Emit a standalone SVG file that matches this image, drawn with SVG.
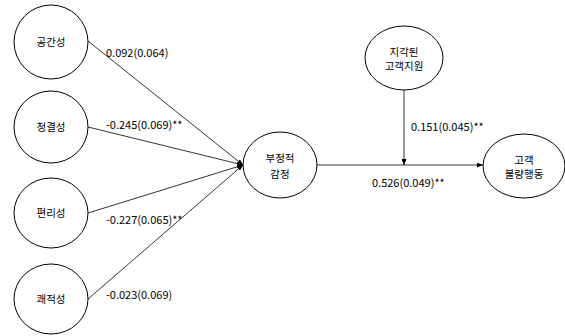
<svg xmlns="http://www.w3.org/2000/svg" width="565" height="336" viewBox="0 0 565 336">
<style>
.n{fill:#fff;stroke:#000;stroke-width:1}
.t{font-family:"Noto Sans CJK KR","Noto Sans",sans-serif;font-size:10.5px;fill:#000;text-anchor:middle;dominant-baseline:central}
.l{font-family:"Noto Sans CJK KR","Noto Sans",sans-serif;font-size:11px;fill:#000;dominant-baseline:central}
.e{fill:none;stroke:#000;stroke-width:0.8}
</style>
<defs>
<marker id="a" viewBox="0 0 6 5" refX="6" refY="2.5" markerWidth="6" markerHeight="5" markerUnits="userSpaceOnUse" orient="auto">
<path d="M0,0 L6,2.5 L0,5 Z" fill="#000"/>
</marker>
</defs>
<rect width="565" height="336" fill="#fff"/>
<g id="edges">
<line class="e" x1="88" y1="41" x2="243" y2="165" marker-end="url(#a)"/>
<line class="e" x1="88" y1="127" x2="243" y2="165" marker-end="url(#a)"/>
<line class="e" x1="88" y1="213" x2="243" y2="165" marker-end="url(#a)"/>
<line class="e" x1="88" y1="299" x2="243" y2="165" marker-end="url(#a)"/>
<line class="e" x1="317" y1="165" x2="483" y2="165" marker-end="url(#a)"/>
<line class="e" x1="404" y1="90" x2="404" y2="165" marker-end="url(#a)"/>
<text class="l" x="106" y="52">0.092(0.064)</text>
<text class="l" x="106" y="124">-0.245(0.069)**</text>
<text class="l" x="106" y="219">-0.227(0.065)**</text>
<text class="l" x="106" y="294">-0.023(0.069)</text>
<text class="l" x="411" y="126">0.151(0.045)**</text>
<text class="l" x="372" y="182">0.526(0.049)**</text>
</g>
<g id="n1"><ellipse class="n" cx="51" cy="42" rx="37" ry="37"/><text class="t" x="51" y="41">공간성</text></g>
<g id="n2"><ellipse class="n" cx="51" cy="127" rx="37" ry="36"/><text class="t" x="51" y="126">청결성</text></g>
<g id="n3"><ellipse class="n" cx="51" cy="213" rx="37" ry="35"/><text class="t" x="51" y="212">편리성</text></g>
<g id="n4"><ellipse class="n" cx="51" cy="299" rx="37" ry="35"/><text class="t" x="51" y="298">쾌적성</text></g>
<g id="n5"><ellipse class="n" cx="280" cy="165" rx="37" ry="33"/><text class="t" x="280" y="157">부정적</text><text class="t" x="280" y="173">감정</text></g>
<g id="n6"><ellipse class="n" cx="404" cy="58" rx="39" ry="32"/><text class="t" x="404" y="51">지각된</text><text class="t" x="404" y="65">고객지원</text></g>
<g id="n7"><ellipse class="n" cx="524" cy="166" rx="41" ry="32"/><text class="t" x="524" y="159">고객</text><text class="t" x="524" y="173">불량행동</text></g>
</svg>
